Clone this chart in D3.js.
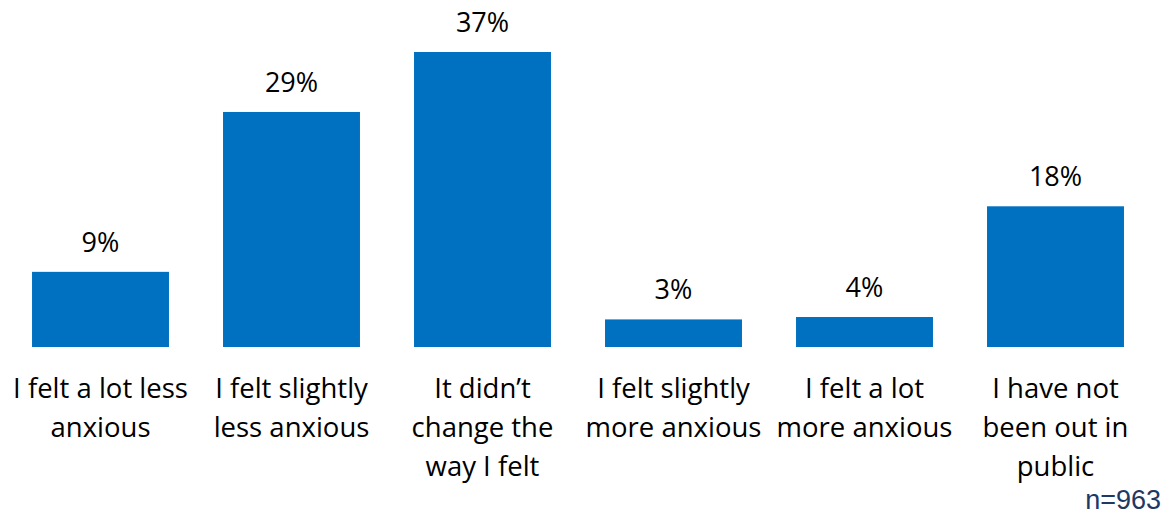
<!DOCTYPE html>
<html>
<head>
<meta charset="utf-8">
<script src="https://cdn.jsdelivr.net/npm/d3@7"></script>
<style>
html,body{margin:0;padding:0;background:#fff;}
svg{display:block;}
</style>
</head>
<body>
<svg id="chart" width="1169" height="516"></svg>
<script>
const categories = [
  ["I felt a lot less", "anxious"],
  ["I felt slightly", "less anxious"],
  ["It didn\u2019t", "change the", "way I felt"],
  ["I felt slightly", "more anxious"],
  ["I felt a lot", "more anxious"],
  ["I have not", "been out in", "public"]
];
const values = [9.4, 29.4, 36.9, 3.45, 3.75, 17.6];
const labels = ["9%", "29%", "37%", "3%", "4%", "18%"];
const note = "n=963";

const svg = d3.select("#chart");
const x = d3.scaleBand().domain(d3.range(categories.length)).range([5, 1151]).paddingInner(0.283).paddingOuter(0.1415);
const y = d3.scaleLinear().domain([0, 36.9]).range([347, 52]);

svg.selectAll("rect.bar").data(values).join("rect")
  .attr("class", "bar")
  .attr("x", (d, i) => x(i))
  .attr("width", x.bandwidth())
  .attr("y", d => y(d))
  .attr("height", d => y(0) - y(d))
  .attr("fill", "#0070C0");

const font = "'Open Sans', sans-serif";

svg.selectAll("text.val").data(values).join("text")
  .attr("class", "val")
  .attr("x", (d, i) => x(i) + x.bandwidth() / 2)
  .attr("y", d => y(d) - 20)
  .attr("text-anchor", "middle")
  .attr("font-family", font)
  .attr("font-size", 27)
  .attr("fill", "#000")
  .text((d, i) => labels[i]);

const cat = svg.selectAll("text.cat").data(categories).join("text")
  .attr("class", "cat")
  .attr("text-anchor", "middle")
  .attr("font-family", font)
  .attr("font-size", 27.5)
  .attr("fill", "#000");
cat.selectAll("tspan").data((d, i) => d.map(t => ({t, i}))).join("tspan")
  .attr("x", d => x(d.i) + x.bandwidth() / 2)
  .attr("y", (d, j) => 398 + j * 39)
  .text(d => d.t);

svg.append("text")
  .attr("x", 1161)
  .attr("y", 509)
  .attr("text-anchor", "end")
  .attr("font-family", "Arial, 'Liberation Sans', sans-serif")
  .attr("font-size", 27)
  .attr("fill", "#203864")
  .text(note);
</script>
</body>
</html>
